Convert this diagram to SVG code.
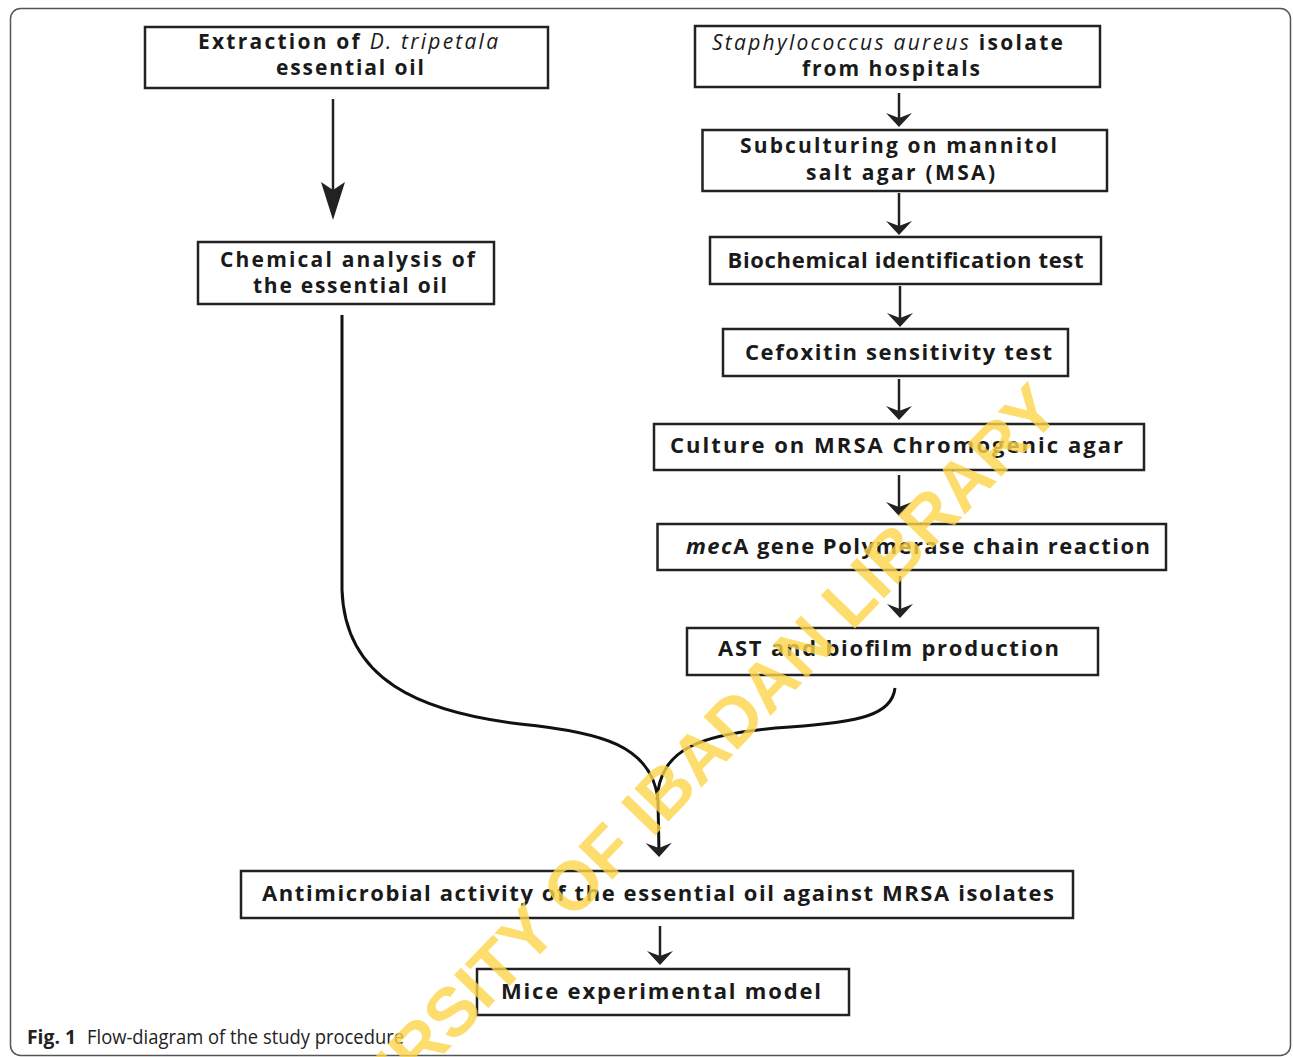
<svg xmlns="http://www.w3.org/2000/svg" width="1293" height="1057" viewBox="0 0 1293 1057">
<style>
.box{fill:#fff;stroke:#222;stroke-width:2.5}
.t{font-family:"Open Sans","Liberation Sans",sans-serif;font-weight:bold;font-size:22px;fill:#1a1a1a}
.t2{font-family:"Open Sans","Liberation Sans",sans-serif;font-weight:bold;font-size:21px;fill:#1a1a1a}
.it{font-style:italic;font-weight:normal}
.itb{font-style:italic;font-weight:bold}
.ln{fill:none;stroke:#222;stroke-width:2.5}
.cv{fill:none;stroke:#111;stroke-width:3}
.wm{font-family:"Liberation Sans",Arial,sans-serif;font-weight:bold;font-size:69px;fill:#FCD548;fill-opacity:0.8}
.cap{font-family:"Open Sans","Liberation Sans",sans-serif;font-size:20px;fill:#222}
</style>
<defs>
<marker id="ah" markerUnits="userSpaceOnUse" markerWidth="14" markerHeight="26" viewBox="0 0 14 26" refX="10" refY="13" orient="auto">
<path d="M0,0 L14,13 L0,26 L5,13 Z" fill="#222"/>
</marker>
<marker id="ahBig" markerUnits="userSpaceOnUse" markerWidth="38" markerHeight="24" viewBox="0 0 38 24" refX="30" refY="12" orient="auto">
<path d="M0,0 L38,12 L0,24 L8,12 Z" fill="#222"/>
</marker>
</defs>
<rect width="1293" height="1057" fill="#fff"/>
<rect x="10.5" y="8.5" width="1280" height="1047" rx="10" fill="none" stroke="#555" stroke-width="1.5"/>

<g id="connectors">
<line class="ln" x1="333" y1="99" x2="333" y2="212" marker-end="url(#ahBig)" stroke-width="3"/>
<line class="ln" x1="899" y1="93" x2="899" y2="123" marker-end="url(#ah)"/>
<line class="ln" x1="899" y1="193" x2="899" y2="231" marker-end="url(#ah)"/>
<line class="ln" x1="900" y1="286" x2="900" y2="323" marker-end="url(#ah)"/>
<line class="ln" x1="899" y1="379" x2="899" y2="416" marker-end="url(#ah)"/>
<line class="ln" x1="899" y1="475" x2="899" y2="512" marker-end="url(#ah)"/>
<line class="ln" x1="900" y1="576" x2="900" y2="614" marker-end="url(#ah)"/>
<line class="ln" x1="660" y1="926" x2="660" y2="961" marker-end="url(#ah)"/>
<path class="cv" d="M342,315 L342,590 C345,680 420,712 520,724 C600,732 652,745 658,800 L659,853" marker-end="url(#ah)"/>
<path class="cv" d="M895,688 C892,715 860,722 790,727 C700,733 660,748 657,800"/>
</g>

<g id="n1"><rect class="box" x="145" y="27" width="403" height="61"/>
<text class="t2" x="198" y="48.5" textLength="300">Extraction of <tspan class="it">D. tripetala</tspan></text>
<text class="t2" x="276" y="75" textLength="148">essential oil</text></g>

<g id="n2"><rect class="box" x="198" y="242" width="296" height="62"/>
<text class="t2" x="220" y="267" textLength="255">Chemical analysis of</text>
<text class="t2" x="253" y="293" textLength="194">the essential oil</text></g>

<g id="n3"><rect class="box" x="695" y="26" width="405" height="61"/>
<text class="t2" x="712" y="50" textLength="351"><tspan class="it">Staphylococcus aureus</tspan> isolate</text>
<text class="t2" x="802" y="76" textLength="178">from hospitals</text></g>

<g id="n4"><rect class="box" x="702.5" y="130" width="404.5" height="61"/>
<text class="t2" x="740" y="153" textLength="317">Subculturing on mannitol</text>
<text class="t2" x="806" y="180" textLength="189">salt agar (MSA)</text></g>

<g id="n5"><rect class="box" x="710" y="237" width="391" height="47"/>
<text class="t" x="727.5" y="267.5" textLength="356">Biochemical identification test</text></g>

<g id="n6"><rect class="box" x="723" y="329" width="345" height="47"/>
<text class="t" x="745" y="359.5" textLength="307">Cefoxitin sensitivity test</text></g>

<g id="n7"><rect class="box" x="654" y="424" width="490" height="46"/>
<text class="t" x="670" y="452.5" textLength="453">Culture on MRSA Chromogenic agar</text></g>

<g id="n8"><rect class="box" x="657.5" y="524" width="508.5" height="46"/>
<text class="t" x="686" y="553.5" textLength="464"><tspan class="itb">mec</tspan>A gene Polymerase chain reaction</text></g>

<g id="n9"><rect class="box" x="687" y="628" width="411" height="47"/>
<text class="t" x="718" y="655.5" textLength="341">AST and biofilm production</text></g>

<g id="n10"><rect class="box" x="241" y="871" width="832" height="47"/>
<text class="t" x="262" y="900.5" textLength="792">Antimicrobial activity of the essential oil against MRSA isolates</text></g>

<g id="n11"><rect class="box" x="477" y="969" width="372" height="46"/>
<text class="t" x="501" y="998.5" textLength="320">Mice experimental model</text></g>

<g id="caption">
<text class="cap" x="27" y="1044" font-weight="bold" textLength="49" lengthAdjust="spacingAndGlyphs">Fig. 1</text>
<text class="cap" x="87" y="1044" textLength="317" lengthAdjust="spacingAndGlyphs">Flow-diagram of the study procedure</text>
</g>

<text class="wm" transform="translate(272,1232) rotate(-46)">UNIVERSITY OF IBADAN LIBRARY</text>
</svg>
